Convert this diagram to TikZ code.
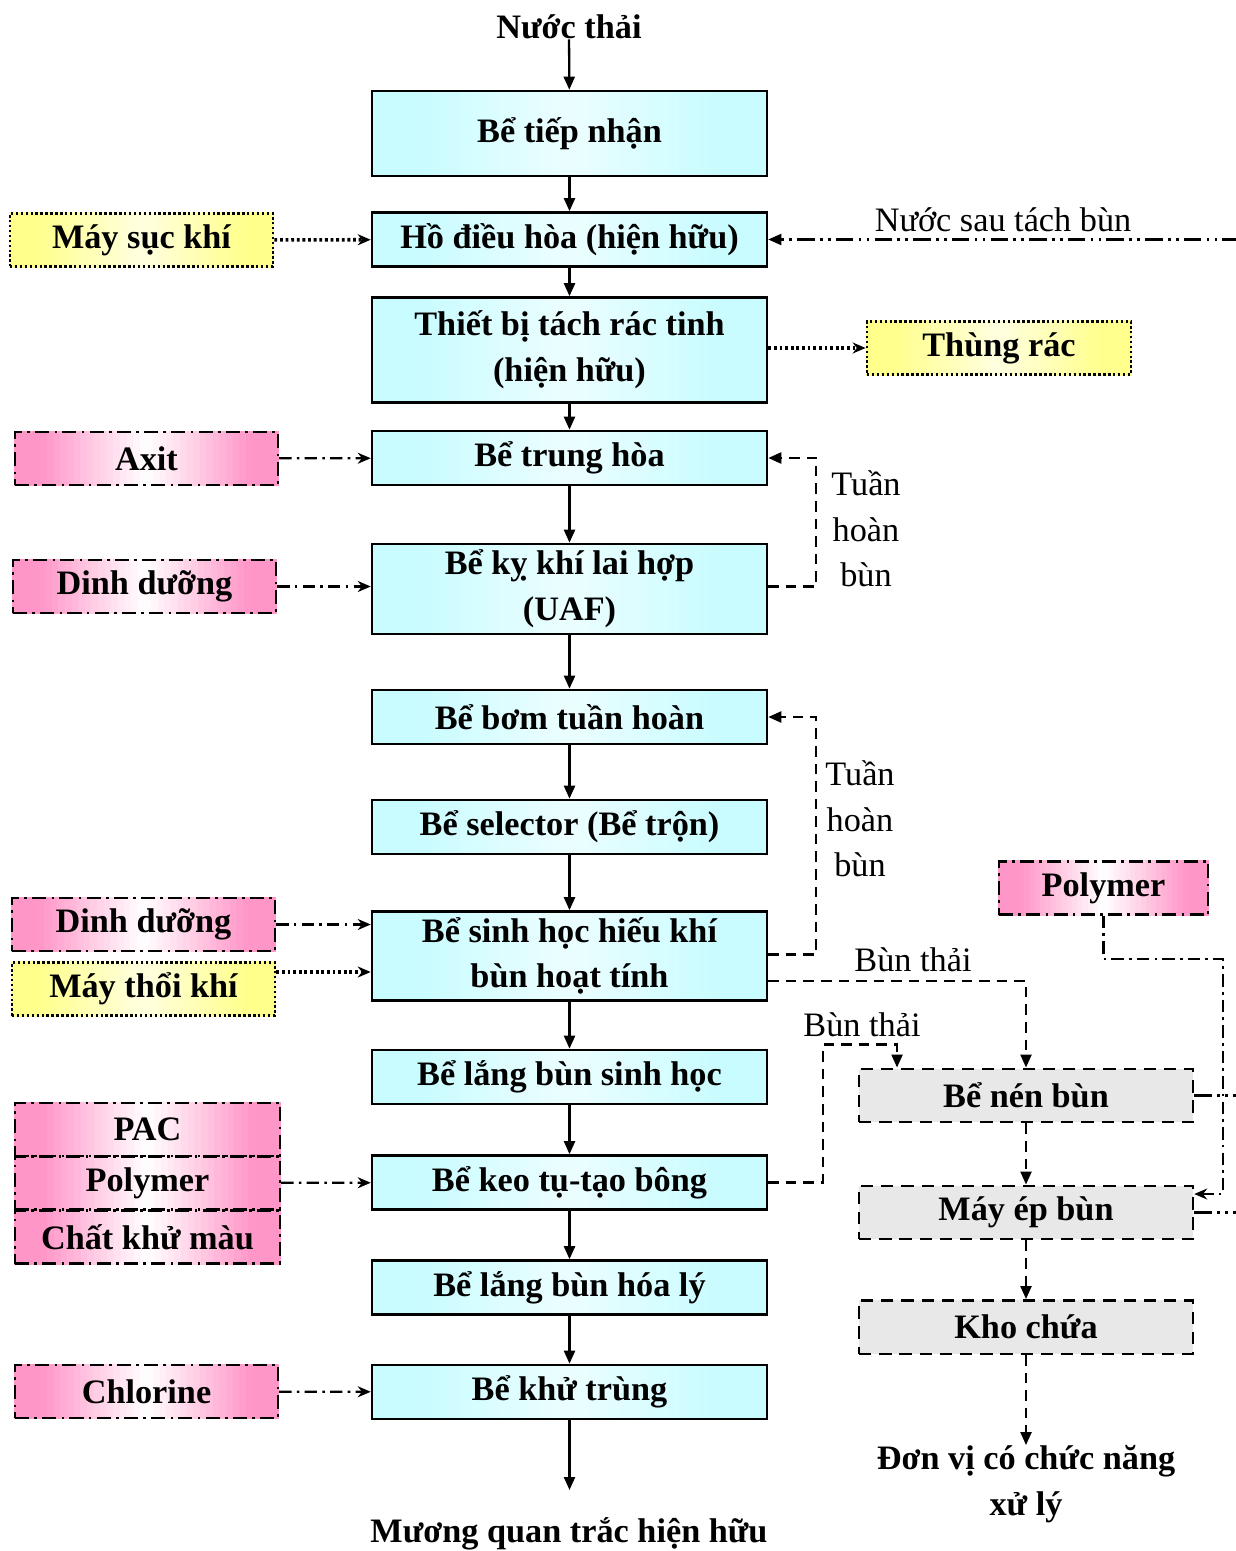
\documentclass[tikz,border=0pt]{standalone}
\usepackage{fontspec}
\setmainfont{Liberation Serif}
\usetikzlibrary{arrows.meta, calc, backgrounds}
\definecolor{tankCyan}{RGB}{200, 252, 255}
\definecolor{tankLight}{RGB}{236, 254, 255}
\definecolor{chemPink}{RGB}{255, 150, 200}
\definecolor{airYellow}{RGB}{255, 255, 140}
\definecolor{airLight}{RGB}{255, 255, 225}
\definecolor{sludgeGray}{RGB}{232, 232, 232}

\begin{document}
\begin{tikzpicture}[
    x=0.02cm, y=-0.02cm,
    every node/.style={font=\fontsize{19.5}{26}\selectfont\bfseries,
        align=center, inner sep=0pt},
    note/.style={font=\fontsize{19.5}{26}\selectfont},
    tank/.style={draw, line width=1.5pt,
        minimum width=7.9cm, minimum height=1.08cm},
    chem/.style={draw, line width=1.4pt,
        dash pattern=on 8pt off 3pt on 1.5pt off 3pt,
        minimum width=5.26cm, minimum height=1.06cm},
    air/.style={draw, line width=1.6pt, dash pattern=on 1.4pt off 1.4pt,
        minimum width=5.26cm, minimum height=1.06cm},
    sludge/.style={draw, line width=1.4pt, dash pattern=on 7pt off 4.5pt,
        fill=sludgeGray, minimum width=6.68cm, minimum height=1.07cm},
    flow/.style={line width=1.3pt,
        -{Triangle[length=0.26cm, width=0.22cm]}},
    airflow/.style={line width=2pt, dash pattern=on 1.6pt off 1.6pt,
        -{Stealth[length=0.26cm, width=0.22cm]}},
    dose/.style={line width=1.3pt,
        dash pattern=on 7pt off 3pt on 1.5pt off 3pt,
        -{Stealth[length=0.26cm, width=0.22cm]}},
    recirc/.style={line width=1.3pt, dash pattern=on 6pt off 4pt,
        -{Triangle[length=0.26cm, width=0.22cm]}},
    backflow/.style={line width=1.2pt,
        dash pattern=on 10pt off 3pt on 1.5pt off 3pt on 1.5pt off 3pt,
        -{Triangle[length=0.26cm, width=0.22cm]}},
]

\useasboundingbox (0,0) rectangle (1235,1551);

% ======== main treatment line ========
\node (inflow) at (569,27) {Nước thải};
\node[tank, minimum height=1.7cm] (recv) at (569.5,133.5) {Bể tiếp nhận};
\node[tank] (equal) at (569.5,239.5) {Hồ điều hòa (hiện hữu)};
\node[tank, minimum height=2.1cm] (screen) at (569.5,350)
    {Thiết bị tách rác tinh\\(hiện hữu)};
\node[tank] (neutr) at (569.5,458) {Bể trung hòa};
\node[tank, minimum height=1.8cm] (uaf) at (569.5,589)
    {Bể kỵ khí lai hợp\\(UAF)};
\node[tank] (pump) at (569.5,717) {Bể bơm tuần hoàn};
\node[tank] (select) at (569.5,827) {Bể selector (Bể trộn)};
\node[tank, minimum height=1.78cm] (aero) at (569.5,956)
    {Bể sinh học hiếu khí\\bùn hoạt tính};
\node[tank] (bioset) at (569.5,1077) {Bể lắng bùn sinh học};
\node[tank] (coag) at (569.5,1182.5) {Bể keo tụ-tạo bông};
\node[tank] (chemset) at (569.5,1287.5) {Bể lắng bùn hóa lý};
\node[tank] (disinf) at (569.5,1392) {Bể khử trùng};
\node (outflow) at (569,1534) {Mương quan trắc hiện hữu};
\coordinate (outIn) at (569.5,1490);

\foreach \a/\b in {inflow/recv, recv/equal, equal/screen, screen/neutr,
    neutr/uaf, uaf/pump, pump/select, select/aero, aero/bioset,
    bioset/coag, coag/chemset, chemset/disinf, disinf/outIn}
    \draw[flow] (\a) -- (\b);

% ---- dosing and air (left) ----
\node[air] (blowerA) at (141.5,240) {Máy sục khí};
\node[chem] (acid) at (146.5,458.5) {Axit};
\node[chem] (nutrA) at (144.5,586.5) {Dinh dưỡng};
\node[chem] (nutrB) at (143.5,924.5) {Dinh dưỡng};
\node[air] (blowerB) at (143.5,989) {Máy thổi khí};
\node[chem, minimum width=5.3cm] (pac) at (147.5,1129.5) {PAC};
\node[chem, minimum width=5.3cm] (polyA) at (147.5,1183) {Polymer};
\node[chem, minimum width=5.3cm] (decol) at (147.5,1237) {Chất khử màu};
\node[chem] (chlor) at (146.5,1391.5) {Chlorine};

\draw[airflow] (blowerA) -- (equal);
\draw[airflow] ([yshift=0.34cm]blowerB.east)
    -- ([yshift=0.34cm]blowerB.east -| aero.west);
\draw[dose] (acid) -- (neutr);
\draw[dose] (nutrA.east) -- (nutrA.east -| uaf.west);
\draw[dose] (nutrB.east) -- (nutrB.east -| aero.west);
\draw[dose] (polyA) -- (coag);
\draw[dose] (chlor) -- (disinf);

% ---- screenings and return water ----
\node[air, minimum width=5.28cm] (trash) at (999,348) {Thùng rác};
\draw[airflow] (screen.east |- trash.west) -- (trash.west);

\coordinate (backIn) at (1240,239.5);
\draw[backflow] (backIn) -- (equal.east);
\node[note] (backLbl) at (1003,220) {Nước sau tách bùn};

% ---- sludge recirculation ----
\draw[recirc] (uaf.east |- nutrA.east) -- ++(48,0) |- (neutr.east);
\node[note] (recLblA) at (866,529) {Tuần\\hoàn\\bùn};
\draw[recirc] ([yshift=0.03cm]aero.east) -- ++(48,0) |- (pump.east);
\node[note] (recLblB) at (860,819) {Tuần\\hoàn\\bùn};

% ======== sludge line (right) ========
\node[chem, minimum width=4.18cm] (polyB) at (1103.5,888) {Polymer};
\node[sludge] (thick) at (1026,1095.5) {Bể nén bùn};
\node[sludge] (press) at (1026,1212.5) {Máy ép bùn};
\node[sludge] (store) at (1026,1327) {Kho chứa};
\node (disposal) at (1026,1484) {Đơn vị có chức năng\\xử lý};

% waste sludge
\draw[recirc] ([yshift=-0.5cm]aero.east) -| (thick.north);
\node[note] (wasteLblA) at (913,960) {Bùn thải};
\coordinate (thickIn) at ([xshift=-2.58cm]thick.north);
\draw[recirc] (coag.east) -- ++(55,0) |- ([yshift=0.46cm]thickIn)
    -- (thickIn);
\node[note] (wasteLblB) at (862,1025) {Bùn thải};

\draw[recirc] (thick) -- (press);
\draw[recirc] (press) -- (store);
\draw[recirc] (store) -- (disposal);

% polymer to the press
\coordinate (pressIn) at ([yshift=0.37cm]press.east);
\draw[dose] (polyB.south) -- ++(0,43) -| ($(pressIn)+(29,0)$) -- (pressIn);

% filtrate back to the equalisation pond
\draw[backflow, -] (thick.east) -- (thick.east -| backIn);
\draw[backflow, -] (press.east) -- (press.east -| backIn);

% ---- box fills: edge colour fading to a light middle ----
\begin{scope}[on background layer]
\foreach \n/\ca/\cb in {recv/tankCyan/tankLight, equal/tankCyan/tankLight,
    screen/tankCyan/tankLight, neutr/tankCyan/tankLight,
    uaf/tankCyan/tankLight, pump/tankCyan/tankLight,
    select/tankCyan/tankLight, aero/tankCyan/tankLight,
    bioset/tankCyan/tankLight, coag/tankCyan/tankLight,
    chemset/tankCyan/tankLight, disinf/tankCyan/tankLight,
    acid/chemPink/white, nutrA/chemPink/white, nutrB/chemPink/white,
    pac/chemPink/white, polyA/chemPink/white, decol/chemPink/white,
    chlor/chemPink/white, polyB/chemPink/white,
    blowerA/airYellow/airLight, blowerB/airYellow/airLight,
    trash/airYellow/airLight} {
    \foreach \i in {0,...,39} {
        \pgfmathsetmacro{\fa}{\i/40}
        \pgfmathsetmacro{\fb}{min(1, (\i+1.3)/40)}
        \pgfmathsetmacro{\mix}{min(100, 125*abs(\i-19.5)/19.5)}
        \fill[\ca!\mix!\cb]
            ($(\n.south west)!\fa!(\n.south east)$)
            rectangle ($(\n.north west)!\fb!(\n.north east)$);
    }
}
\end{scope}

\end{tikzpicture}
\end{document}
